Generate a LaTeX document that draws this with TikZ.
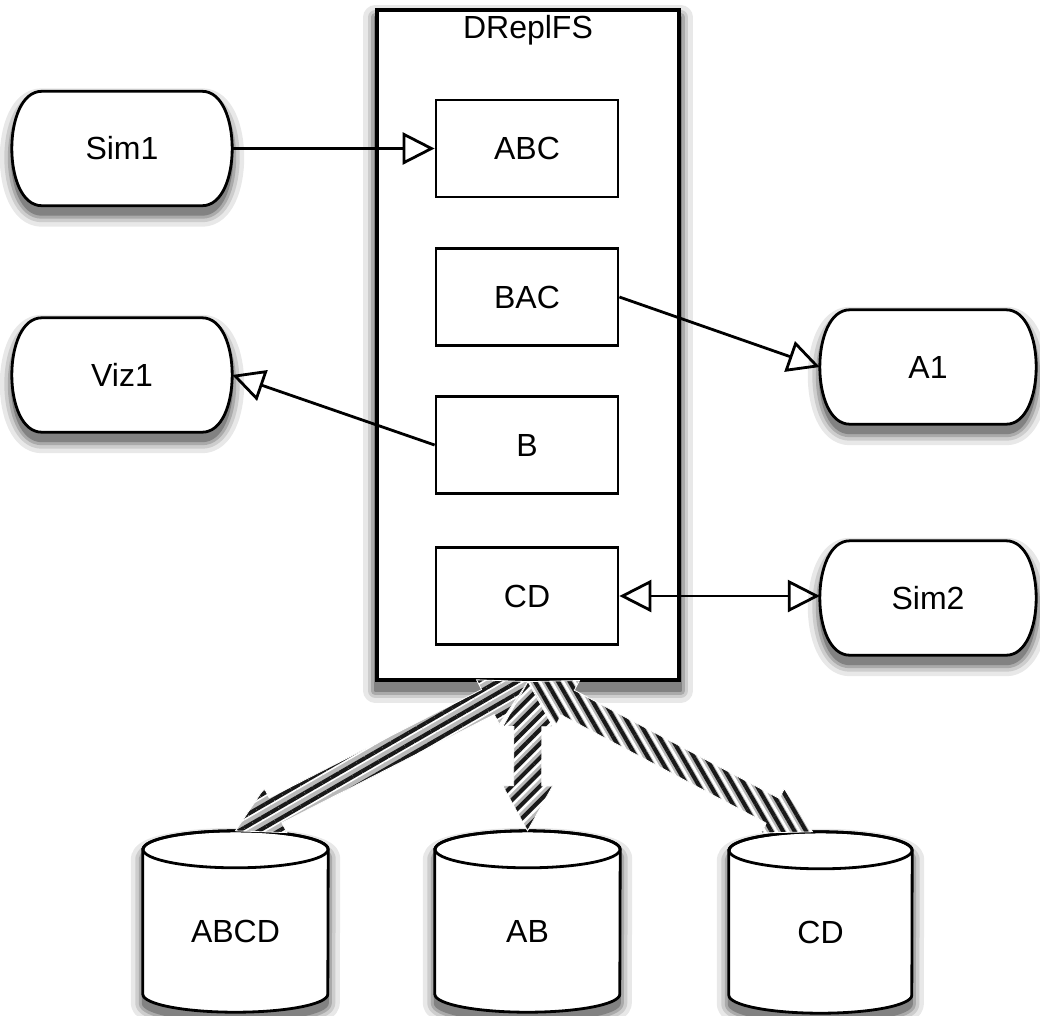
\documentclass[tikz,border=0pt]{standalone}
\usepackage{fontspec}
\setmainfont{Liberation Sans}
\usetikzlibrary{arrows.meta,calc,patterns.meta,backgrounds}
\definecolor{shA}{RGB}{232,232,232}
\definecolor{shB}{RGB}{205,205,205}
\definecolor{shC}{RGB}{170,170,170}
\definecolor{shD}{RGB}{130,130,130}
\tikzset{
  base/.style={font=\fontsize{32}{38}\selectfont},
  outerbox/.style={draw, line width=3.2pt, fill=white, minimum width=302pt, minimum height=670pt, inner sep=0pt},
  innerbox/.style={draw, line width=2.8pt, fill=white, minimum width=182pt, minimum height=97pt, inner sep=0pt, base},
  term/.style={minimum width=220pt, minimum height=114pt, inner sep=0pt, base},
  shapedraw/.style={draw, line width=2.8pt, fill=white},
  cyl/.style={minimum width=185pt, minimum height=181pt, inner sep=0pt},
  conn/.style={line width=2.8pt, -{Triangle[open,length=32pt,width=32pt]}},
  biconn/.style={line width=2.8pt, {Triangle[open,length=32pt,width=32pt]}-{Triangle[open,length=32pt,width=32pt]}},
  fat/.style={draw=white, line width=0.8pt, preaction={fill=gray!55}},
  sh1/.style={fill=shA, draw=shA, line width=24pt, line join=round},
  sh2/.style={fill=shB, draw=shB, line width=15pt, line join=round},
  sh3/.style={fill=shC, draw=shC, line width=8pt, line join=round},
  sh4/.style={fill=shD, draw=shD, line width=2pt, line join=round},
}
\newcommand\termpath[2]{([xshift=30pt,yshift=#2]#1.north west) -- ([xshift=-30pt,yshift=#2]#1.north east)
    .. controls ([xshift=10pt,yshift=#2]#1.north east) and ([xshift=10pt,yshift=#2]#1.south east) .. ([xshift=-30pt,yshift=#2]#1.south east)
    -- ([xshift=30pt,yshift=#2]#1.south west)
    .. controls ([xshift=-10pt,yshift=#2]#1.south west) and ([xshift=-10pt,yshift=#2]#1.north west) .. cycle}
\newcommand\cylpath[3]{([yshift=-18.5pt+#3]#1.north west) -- ([yshift=18pt+#3]#1.south west)
    arc[start angle=180, end angle=360, x radius=#2, y radius=18pt]
    -- ([yshift=-18.5pt+#3]#1.north east)
    arc[start angle=0, end angle=180, x radius=#2, y radius=18.5pt] -- cycle}
\newcommand\softshadow[1]{%
  \path[sh1] #1; \path[sh2] #1; \path[sh3] #1; \path[sh4] #1;}
\newcommand\fatarrow[3]{%
  \path[fat,
      preaction={pattern={Lines[angle=#3,distance=10pt,line width=2.5pt,xshift=5pt]}, pattern color=white},
      pattern={Lines[angle=#3,distance=10pt,line width=4pt]}, pattern color=black!90]
    (#1) -- ($(#1)!45pt!(#2)!25pt!90:(#2)$) -- ($(#1)!45pt!(#2)!14pt!90:(#2)$)
    -- ($(#2)!45pt!(#1)!14pt!-90:(#1)$) -- ($(#2)!45pt!(#1)!25pt!-90:(#1)$)
    -- (#2) -- ($(#2)!45pt!(#1)!25pt!90:(#1)$) -- ($(#2)!45pt!(#1)!14pt!90:(#1)$)
    -- ($(#1)!45pt!(#2)!14pt!-90:(#2)$) -- ($(#1)!45pt!(#2)!25pt!-90:(#2)$) -- cycle;}
\begin{document}
\begin{tikzpicture}[x=1pt,y=-1pt]
  \useasboundingbox (0,0) rectangle (1040,1015);
  % main box
  \node[outerbox] (repl) at (528,345) {};
  \node[base, anchor=north, inner sep=0pt] (repltitle) at (528,15) {DReplFS};
  \node[innerbox] (abc) at (527,148.5) {ABC};
  \node[innerbox] (bac) at (527,297) {BAC};
  \node[innerbox] (b) at (527,445) {B};
  \node[innerbox] (cdbox) at (527,596) {CD};
  % terminals
  \node[term] (sim1) at (122,148.5) {Sim1};
  \node[term] (viz1) at (122,375) {Viz1};
  \node[term, minimum width=216pt] (a1) at (928,367) {A1};
  \node[term, minimum width=216pt] (sim2) at (928,598) {Sim2};
  % cylinders
  \node[cyl, label={[base, yshift=-10pt]center:ABCD}] (abcd) at (235.5,921.5) {};
  \node[cyl, label={[base, yshift=-10pt]center:AB}] (ab) at (527.5,921.5) {};
  \node[cyl, minimum width=183pt, label={[base, yshift=-10pt]center:CD}] (cdb) at (820.5,922.5) {};
  \begin{scope}[on background layer]
    \softshadow{([yshift=-9pt]repl.north west) rectangle ([yshift=-9pt]repl.south east)}
    \softshadow{\termpath{sim1}{-9pt}}
    \softshadow{\termpath{viz1}{-9pt}}
    \softshadow{\termpath{a1}{-9pt}}
    \softshadow{\termpath{sim2}{-9pt}}
    \softshadow{\cylpath{abcd}{92.5pt}{-9pt}}
    \softshadow{\cylpath{ab}{92.5pt}{-9pt}}
    \softshadow{\cylpath{cdb}{91.5pt}{-9pt}}
    \path[shapedraw] \termpath{sim1}{0pt};
    \path[shapedraw] \termpath{viz1}{0pt};
    \path[shapedraw] \termpath{a1}{0pt};
    \path[shapedraw] \termpath{sim2}{0pt};
    \path[shapedraw] \cylpath{abcd}{92.5pt}{0pt};
    \draw[line width=2.8pt] ([yshift=-18.5pt]abcd.north) ellipse[x radius=92.5pt, y radius=18.5pt];
    \path[shapedraw] \cylpath{ab}{92.5pt}{0pt};
    \draw[line width=2.8pt] ([yshift=-18.5pt]ab.north) ellipse[x radius=92.5pt, y radius=18.5pt];
    \path[shapedraw] \cylpath{cdb}{91.5pt}{0pt};
    \draw[line width=2.8pt] ([yshift=-18.5pt]cdb.north) ellipse[x radius=91.5pt, y radius=18.5pt];
  \end{scope}
  % connectors
  \draw[conn] (sim1.east) -- (abc.west);
  \draw[conn] (bac.east) -- (a1.west);
  \draw[conn] (b.west) -- (viz1.east);
  \draw[biconn] (cdbox.east) -- (cdbox.east -| sim2.west);
  % fat arrows
  \coordinate (cdtip) at ([xshift=-8pt]cdb.north);
  \fatarrow{repl.south}{abcd.north}{30}
  \fatarrow{repl.south}{cdtip}{-60}
  \fatarrow{repl.south}{ab.north}{45}
\end{tikzpicture}
\end{document}
